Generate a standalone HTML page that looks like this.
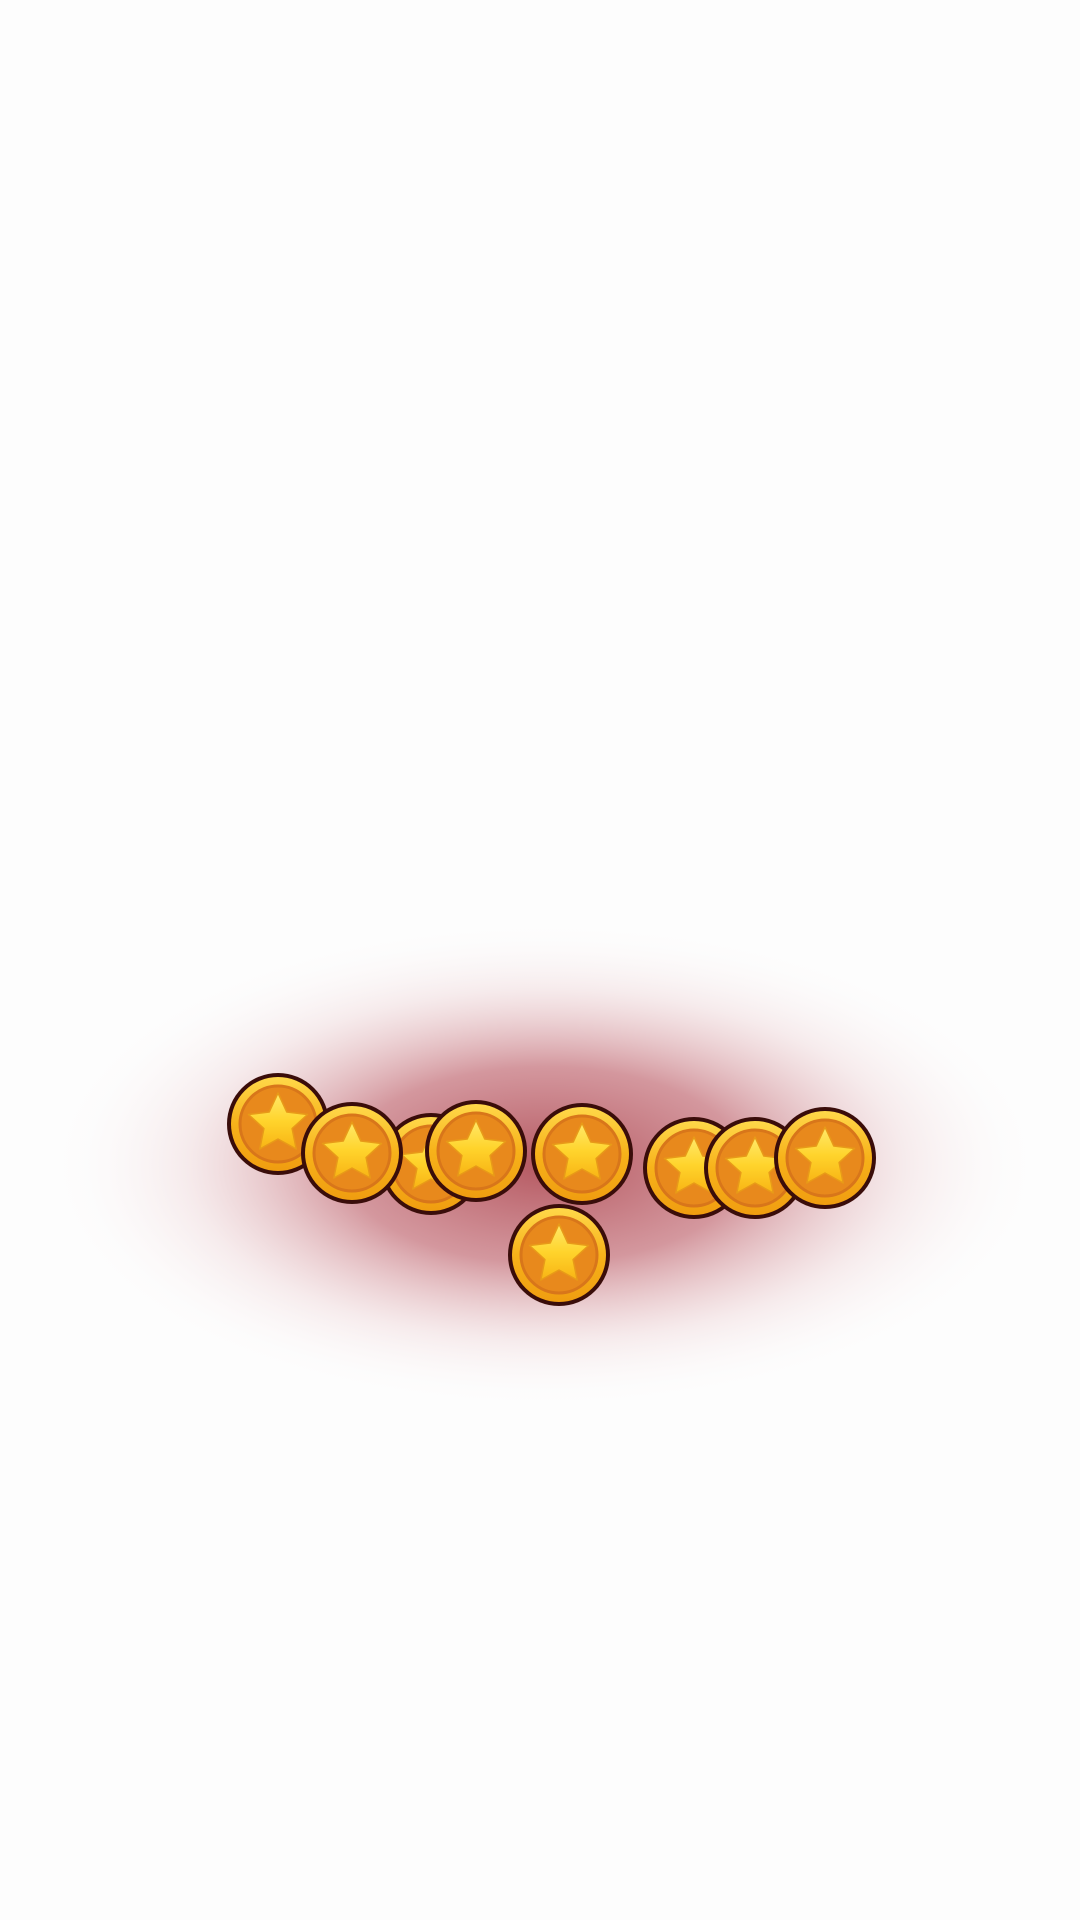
<!DOCTYPE html>
<html><head><meta charset="utf-8"><style>
html,body{margin:0;padding:0;background:#fdfdfd;}
svg{display:block}
</style></head><body>
<svg width="1080" height="1920" viewBox="0 0 1080 1920">
<defs>
<radialGradient id="glow" cx="0.5" cy="0.5" r="0.5">
<stop offset="0" stop-color="#a3303a" stop-opacity="0.8"/>
<stop offset="0.4" stop-color="#b24450" stop-opacity="0.55"/>
<stop offset="0.72" stop-color="#d89aa0" stop-opacity="0.18"/>
<stop offset="1" stop-color="#ffffff" stop-opacity="0"/>
</radialGradient>
<linearGradient id="rim" x1="0" y1="0" x2="0" y2="1">
<stop offset="0" stop-color="#ffd84a"/><stop offset="0.5" stop-color="#f7b21a"/><stop offset="1" stop-color="#f09d10"/>
</linearGradient>
<linearGradient id="star" x1="0" y1="0" x2="0" y2="1">
<stop offset="0" stop-color="#ffe96a"/><stop offset="0.5" stop-color="#ffd42c"/><stop offset="1" stop-color="#f8b414"/>
</linearGradient>
<g id="coin">
<circle r="51" fill="#3a0d0a"/>
<circle r="47" fill="url(#rim)"/>
<circle r="38" fill="#e8891c"/>
<circle r="38" fill="none" stroke="#d8761a" stroke-width="3"/>
<polygon points="0,-31 8.8,-12 29.5,-9.5 14.1,4.6 18.2,25 0,15 -18.2,25 -14.1,4.6 -29.5,-9.5 -8.8,-12" fill="url(#star)" stroke="#e89a18" stroke-width="1.5" stroke-linejoin="round"/>
</g>
</defs>
<ellipse cx="545" cy="1165" rx="500" ry="245" fill="url(#glow)"/>
<use href="#coin" x="431" y="1164"/>
<use href="#coin" x="278" y="1124"/>
<use href="#coin" x="352" y="1153"/>
<use href="#coin" x="476" y="1151"/>
<use href="#coin" x="582" y="1154"/>
<use href="#coin" x="559" y="1255"/>
<use href="#coin" x="694" y="1168"/>
<use href="#coin" x="755" y="1168"/>
<use href="#coin" x="825" y="1158"/>
</svg>
</body></html>
